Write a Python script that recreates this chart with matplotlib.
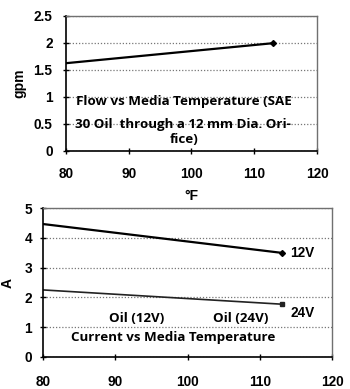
import matplotlib
matplotlib.use("Agg")
import matplotlib.pyplot as plt

# flow through the orifice
flow_temp = [80, 113]
flow_gpm = [1.62, 1.99]

# coil current
cur_temp = [80, 113]
cur_12v = [4.47, 3.50]
cur_24v = [2.25, 1.77]

plt.rcParams['font.family'] = 'Liberation Sans'
plt.rcParams['font.size'] = 9.5

fig = plt.figure(figsize=(3.5, 3.89), dpi=100)
ax1 = fig.add_axes([0.188, 0.612, 0.718, 0.348])
ax2 = fig.add_axes([0.123, 0.083, 0.826, 0.3815])

def style(ax, yticks, xpad, ypad):
    ax.set_xlim(80, 120)
    ax.set_xticks([80, 90, 100, 110, 120])
    ax.set_ylim(yticks[0], yticks[-1])
    ax.set_yticks(yticks)
    ax.grid(axis='y', linestyle=(0, (1, 1.5)), color='#777777', linewidth=0.9)
    ax.set_axisbelow(True)
    for s in ('top', 'right'):
        ax.spines[s].set_color('#707070')
        ax.spines[s].set_linewidth(1.0)
    for s in ('left', 'bottom'):
        ax.spines[s].set_color('black')
        ax.spines[s].set_linewidth(1.2)
    ax.tick_params(direction='inout', length=5, width=1, labelsize=9.8)
    ax.tick_params(axis='x', pad=xpad)
    ax.tick_params(axis='y', pad=ypad)
    for lab in ax.get_xticklabels() + ax.get_yticklabels():
        lab.set_fontweight('bold')

style(ax1, [0, 0.5, 1, 1.5, 2, 2.5], 9, 7)
ax1.set_yticklabels(['0', '0.5', '1', '1.5', '2', '2.5'], fontweight='bold')
ax1.plot(flow_temp, flow_gpm, color='black', lw=1.6, marker='D', ms=3, markevery=[1])
ax1.set_ylabel('gpm', fontweight='bold', fontsize=10, labelpad=5)
ax1.set_xlabel('°F', fontweight='bold', fontsize=10, labelpad=6)

tf = dict(family='Open Sans', fontweight='bold', fontsize=9.6, ha='center', va='center')
ax1.text(98.8, 0.91, 'Flow vs Media Temperature (SAE', **tf)
ax1.text(98.6, 0.48, '30 Oil  through a 12 mm Dia. Ori-', **tf)
ax1.text(98.8, 0.22, 'fice)', **tf)

style(ax2, [0, 1, 2, 3, 4, 5], 10.5, 5.5)
ax2.plot(cur_temp, cur_12v, color='black', lw=1.6, marker='D', ms=3, markevery=[1])
ax2.plot(cur_temp, cur_24v, color='#222222', lw=1.2, marker='s', ms=3.5, markevery=[1])
ax2.set_ylabel('A', fontweight='bold', fontsize=10, labelpad=7)
ax2.text(114.2, cur_12v[-1], '12V', fontsize=9.8, fontweight='bold', va='center')
ax2.text(114.2, cur_24v[-1] - 0.3, '24V', fontsize=9.8, fontweight='bold', va='center')
ax2.text(93.0, 1.3, 'Oil (12V)', **tf)
ax2.text(107.3, 1.3, 'Oil (24V)', **tf)
ax2.text(98.0, 0.66, 'Current vs Media Temperature', **tf)

fig.savefig('out.png', dpi=100)
